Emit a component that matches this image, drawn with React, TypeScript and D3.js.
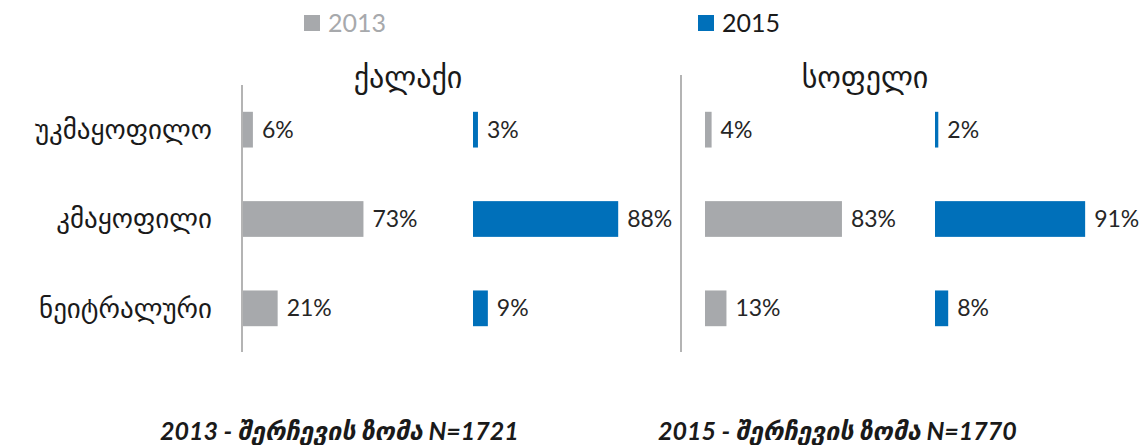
import { useRef, useEffect } from 'react';
import * as d3 from 'd3';

const categories = ['უკმაყოფილო', 'კმაყოფილი', 'ნეიტრალური'];
const panels = ['ქალაქი', 'სოფელი'];
const years = ['2013', '2015'];
const city2013 = [6, 73, 21];
const city2015 = [3, 88, 9];
const village2013 = [4, 83, 13];
const village2015 = [2, 91, 8];
const footnotes = ['2013 - შერჩევის ზომა N=1721', '2015 - შერჩევის ზომა N=1770'];

const colors = { '2013': '#a7a9ac', '2015': '#0070ba' };

export default function App() {
  const svgRef = useRef<SVGSVGElement>(null);

  useEffect(() => {
    if (!svgRef.current) return;
    const width = 1145;
    const height = 445;
    const svg = d3.select(svgRef.current);
    svg.selectAll('*').remove();
    svg.attr('width', width).attr('height', height);

    const latin = 'Lato, "DejaVu Sans", sans-serif';
    const geo = '"DejaVu Sans", sans-serif';

    const data = [
      [city2013, city2015],
      [village2013, village2015],
    ];

    const y = d3.scaleBand().domain(categories).range([85, 353]).paddingInner(0.6).paddingOuter(0.3);
    const x = d3.scaleLinear().domain([0, 100]).range([0, 165]);
    const panelStart = d3.scaleOrdinal<string, number>().domain(panels).range([243, 705]);
    const axisX = [242, 681];
    const titleX = [408, 865];
    const yearOffset = d3.scaleOrdinal<string, number>().domain(years).range([0, 230]);

    // Legend
    const legendX = [304, 698];
    years.forEach((yr, i) => {
      svg.append('rect')
        .attr('x', legendX[i]).attr('y', 15)
        .attr('width', 16).attr('height', 16)
        .attr('fill', colors[yr]);
      svg.append('text')
        .attr('x', legendX[i] + 24).attr('y', 32)
        .attr('font-family', latin).attr('font-size', 25)
        .attr('fill', i === 0 ? '#a7a9ac' : '#1a1a1a')
        .text(yr);
    });

    // Category labels
    svg.append('g')
      .selectAll('text')
      .data(categories)
      .join('text')
      .attr('x', 212)
      .attr('y', d => y(d)! + y.bandwidth() / 2)
      .attr('dy', '0.35em')
      .attr('text-anchor', 'end')
      .attr('font-family', geo)
      .attr('font-size', 27)
      .attr('fill', '#1a1a1a')
      .text(d => d);

    panels.forEach((p, pi) => {
      const x0 = panelStart(p);
      // axis line
      svg.append('line')
        .attr('x1', axisX[pi]).attr('x2', axisX[pi])
        .attr('y1', pi === 0 ? 85 : 75).attr('y2', 352)
        .attr('stroke', '#b4b4b4').attr('stroke-width', 2);
      // panel title
      svg.append('text')
        .attr('x', titleX[pi]).attr('y', 88)
        .attr('text-anchor', 'middle')
        .attr('font-family', geo).attr('font-size', 30)
        .attr('fill', '#1a1a1a')
        .text(p);

      years.forEach((yr, yi) => {
        const vals = data[pi][yi];
        const bx = x0 + yearOffset(yr);
        const g = svg.append('g');
        g.selectAll('rect')
          .data(categories)
          .join('rect')
          .attr('x', bx)
          .attr('y', d => y(d)!)
          .attr('width', (d, i) => x(vals[i]))
          .attr('height', y.bandwidth())
          .attr('fill', colors[yr]);
        g.selectAll('text')
          .data(categories)
          .join('text')
          .attr('x', (d, i) => bx + x(vals[i]) + 9)
          .attr('y', d => y(d)! + y.bandwidth() / 2)
          .attr('dy', '0.35em')
          .attr('font-family', latin)
          .attr('font-size', 23)
          .attr('fill', '#262626')
          .text((d, i) => `${vals[i]}%`);
      });
    });

    // Footnotes
    const footX = [160, 658];
    footnotes.forEach((t, i) => {
      svg.append('text')
        .attr('x', footX[i]).attr('y', 440)
        .attr('font-family', latin)
        .attr('font-size', 25)
        .attr('font-weight', 'bold')
        .attr('font-style', 'italic')
        .attr('fill', '#1a1a1a')
        .text(t);
    });
  }, []);

  return <svg ref={svgRef} style={{ position: 'absolute', left: 0, top: 0 }} />;
}
